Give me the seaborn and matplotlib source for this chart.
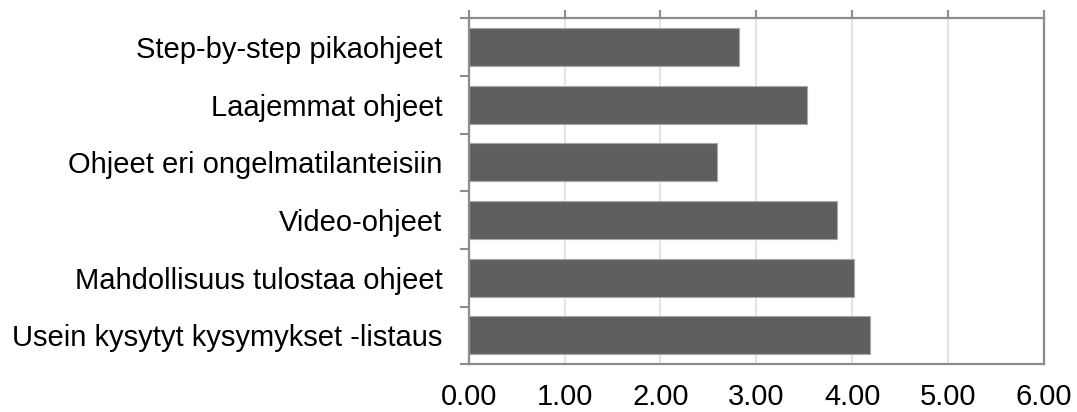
import matplotlib
matplotlib.use("Agg")
import matplotlib.pyplot as plt
import seaborn as sns
import pandas as pd
import numpy as np

categories = [
    "Step-by-step pikaohjeet",
    "Laajemmat ohjeet",
    "Ohjeet eri ongelmatilanteisiin",
    "Video-ohjeet",
    "Mahdollisuus tulostaa ohjeet",
    "Usein kysytyt kysymykset -listaus",
]
values = [2.82, 3.53, 2.59, 3.84, 4.02, 4.19]
x_ticks = [0, 1, 2, 3, 4, 5, 6]
x_tick_labels = ["0.00", "1.00", "2.00", "3.00", "4.00", "5.00", "6.00"]

sns.set_theme(style="white")
plt.rcParams["font.family"] = ["Liberation Sans", "DejaVu Sans"]

df = pd.DataFrame({"category": categories, "value": values})

fig = plt.figure(figsize=(10.77, 4.12), dpi=100)
ax = fig.add_axes([0.4352, 0.1158, 0.9694 - 0.4352, 0.9556 - 0.1158])

sns.barplot(data=df, y="category", x="value", orient="h", color="#5f5f5f",
            saturation=1, width=0.66, edgecolor="#a8a8a8", linewidth=0.8, ax=ax)

ax.set_xlim(0, 6)
ax.set_ylim(len(categories) - 0.5, -0.5)
ax.set_xlabel("")
ax.set_ylabel("")

ax.set_xticks(x_ticks)
ax.set_xticklabels(x_tick_labels, fontsize=21, color="#000000")
ax.tick_params(axis="x", which="major", bottom=False, top=True, labelbottom=True,
               labeltop=False, direction="out", length=5.8, width=1.5,
               color="#8c8c8c", pad=8)

ax.set_yticks(np.arange(len(categories)))
ax.set_yticklabels(categories, fontsize=21, color="#000000")
ax.set_yticks(np.arange(len(categories) + 1) - 0.5, minor=True)
ax.tick_params(axis="y", which="major", left=False, length=0, pad=19)
ax.tick_params(axis="y", which="minor", left=True, direction="out", length=6.5,
               width=1.5, color="#8c8c8c")

ax.grid(axis="x", color="#e4e4e4", linewidth=1.5)
ax.set_axisbelow(True)

for side in ["left", "right", "top", "bottom"]:
    ax.spines[side].set_visible(True)
    ax.spines[side].set_color("#8c8c8c")
    ax.spines[side].set_linewidth(1.6)

fig.savefig("out.png", dpi=100, facecolor="white")
